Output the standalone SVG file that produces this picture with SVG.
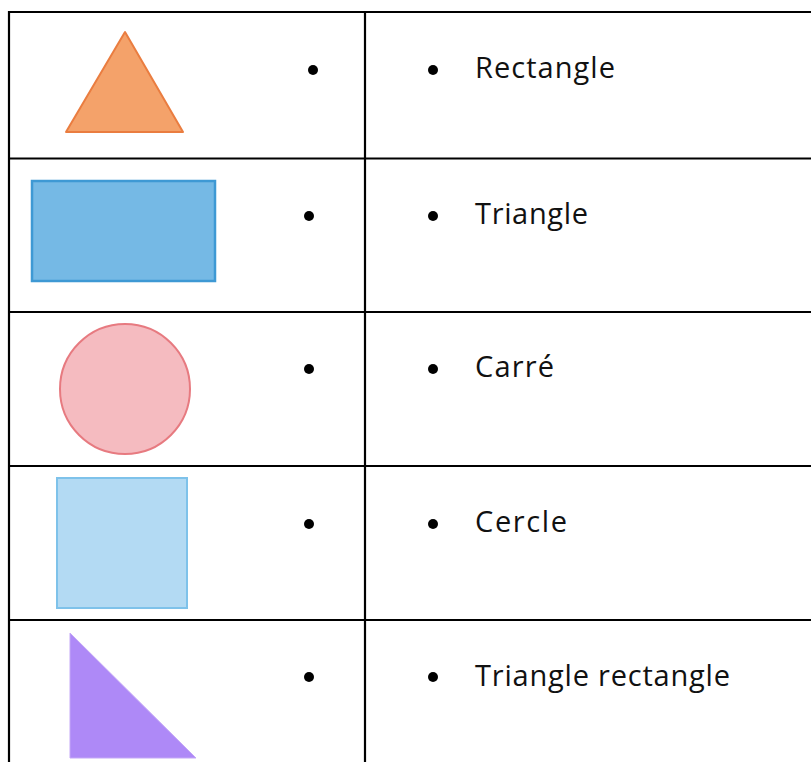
<svg xmlns="http://www.w3.org/2000/svg" width="811" height="762" viewBox="0 0 811 762">
<style>
.grid{stroke:#000;stroke-width:2.2;fill:none}
.dot{fill:#000}
.lbl{font-family:"Open Sans","Liberation Sans",sans-serif;font-size:29px;fill:#111}
</style>
<rect width="811" height="762" fill="#fff"/>
<g id="table" class="grid">
<line x1="9" y1="12" x2="811" y2="12"/>
<line x1="9" y1="158.5" x2="811" y2="158.5"/>
<line x1="9" y1="312" x2="811" y2="312"/>
<line x1="9" y1="466" x2="811" y2="466"/>
<line x1="9" y1="620" x2="811" y2="620"/>
<line x1="9" y1="11" x2="9" y2="762"/>
<line x1="365" y1="11" x2="365" y2="762"/>
</g>
<g id="shape-triangle">
<polygon points="125,32 66,132 183,132" fill="#F4A26A" stroke="#EA7D40" stroke-width="2" stroke-linejoin="round"/>
<circle class="dot" cx="313" cy="70" r="5"/>
</g>
<g id="shape-rectangle">
<rect x="32" y="181" width="183" height="100" fill="#75B9E5" stroke="#3E99D4" stroke-width="2.5"/>
<circle class="dot" cx="309" cy="216" r="5"/>
</g>
<g id="shape-circle">
<circle cx="125" cy="389" r="65" fill="#F5BBC0" stroke="#E77A80" stroke-width="2"/>
<circle class="dot" cx="309" cy="369" r="5"/>
</g>
<g id="shape-square">
<rect x="57" y="478" width="130" height="130" fill="#B3DAF3" stroke="#7EC2EA" stroke-width="2"/>
<circle class="dot" cx="309" cy="524" r="5"/>
</g>
<g id="shape-right-triangle">
<polygon points="70,633 70,758 196,758" fill="#AE89F7" stroke="#C4A8F7" stroke-width="1"/>
<circle class="dot" cx="309" cy="677" r="5"/>
</g>
<g id="label-rectangle">
<circle class="dot" cx="433" cy="70" r="5"/>
<text class="lbl" x="475" y="78" textLength="140">Rectangle</text>
</g>
<g id="label-triangle">
<circle class="dot" cx="433" cy="216" r="5"/>
<text class="lbl" x="475" y="224" textLength="113">Triangle</text>
</g>
<g id="label-carre">
<circle class="dot" cx="433" cy="369" r="5"/>
<text class="lbl" x="475" y="377" textLength="79">Carré</text>
</g>
<g id="label-cercle">
<circle class="dot" cx="433" cy="524" r="5"/>
<text class="lbl" x="475" y="532" textLength="92">Cercle</text>
</g>
<g id="label-triangle-rectangle">
<circle class="dot" cx="433" cy="677" r="5"/>
<text class="lbl" x="475" y="686" textLength="255">Triangle rectangle</text>
</g>
<g id="connectors"></g>
</svg>
